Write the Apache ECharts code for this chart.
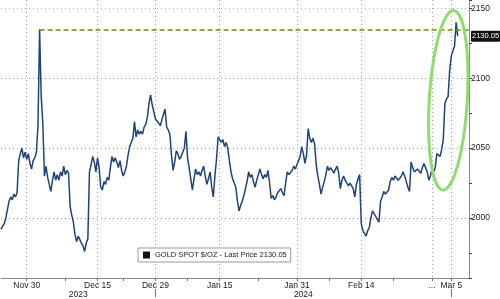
<!DOCTYPE html>
<html><head><meta charset="utf-8">
<script src="https://cdn.jsdelivr.net/npm/echarts@6/dist/echarts.min.js"></script>
<style>html,body{margin:0;padding:0;background:#fff}#c{width:500px;height:299px}</style>
</head><body><div id="c"></div>
<script>
const seriesName = 'GOLD SPOT $/OZ';
const firstDay = '2023-11-24';
const lastDay = '2024-03-07';
const holidays = ['2023-12-25', '2024-01-01'];
const slotHours = ['00:00', '06:00', '12:00', '18:00'];
const slotCount = 292;
const tickDates = ['2023-11-30', '2023-12-15', '2023-12-29', '2024-01-15', '2024-01-31', '2024-02-14', '2024-02-29', '2024-03-05'];
const tickLabels = ['Nov 30', 'Dec 15', 'Dec 29', 'Jan 15', 'Jan 31', 'Feb 14', '...', 'Mar 5'];
const minorTickDates = ['2023-12-08', '2023-12-21', '2024-01-08', '2024-01-23', '2024-02-07', '2024-02-21'];
const yearDates = ['2023-12-12', '2024-02-01'];
const yearLabels = ['2023', '2024'];
const yearSeparatorDates = ['2023-12-29', '2024-03-05'];
const yTicks = [2000, 2050, 2100, 2150];
const rallyStartDate = '2024-02-28';

// 6-hourly gold spot price
const goldPrice = [
  1992,1994,1996,2000,2006,2012,2015,2013,2017,2015,
  2018,2041,2046,2050,2043,2047,2042,2046,2039,2035,
  2041,2043,2047,2066,2135,2087,2068,2030,2037,2029,
  2024,2019,2027,2033,2027,2031,2027,2033,2030,2037,
  2031,2034,2032,2008,2002,1997,1988,1983,1987,1988,
  1982,1980,1976,1982,1985,2033,2038,2044,2040,2033,
  2043,2036,2022,2020,2026,2024,2029,2027,2036,2044,
  2040,2043,2040,2036,2041,2034,2030,2033,2037,2045,
  2051,2054,2057,2069,2058,2063,2060,2062,2060,2065,
  2067,2072,2082,2088,2081,2076,2071,2072,2068,2066,
  2070,2074,2078,2065,2063,2060,2045,2034,2040,2048,
  2046,2042,2044,2047,2050,2062,2043,2036,2028,2020,
  2028,2035,2031,2033,2030,2034,2037,2030,2024,2028,
  2033,2022,2015,2030,2042,2058,2057,2054,2056,2051,
  2054,2050,2041,2033,2028,2025,2022,2012,2005,2009,
  2012,2016,2021,2026,2033,2029,2031,2026,2022,2027,
  2031,2035,2031,2028,2031,2029,2034,2025,2014,2016,
  2013,2015,2018,2019,2021,2018,2016,2025,2033,2031,
  2030,2034,2037,2035,2038,2037,2044,2051,2046,2039,
  2045,2064,2057,2054,2057,2053,2038,2030,2024,2017,
  2022,2026,2031,2037,2034,2036,2035,2032,2035,2037,
  2032,2021,2027,2030,2027,2026,2023,2025,2023,2021,
  2015,2024,2028,2031,1996,1991,1989,1987,1991,1993,
  2000,2005,2003,2002,1999,1997,2012,2015,2019,2017,
  2016,2020,2026,2029,2027,2030,2029,2027,2026,2030,
  2033,2030,2026,2022,2019,2040,2036,2033,2034,2035,
  2034,2032,2036,2039,2036,2033,2027,2030,2035,2033,
  2036,2046,2045,2044,2049,2056,2082,2085,2087,2106,
  2116,2117,2123,2140,2130.05
];

const days = [];
for (let d = new Date(firstDay + 'T00:00:00Z'); d <= new Date(lastDay + 'T00:00:00Z'); d.setUTCDate(d.getUTCDate() + 1)) {
  const w = d.getUTCDay();
  const s = d.toISOString().slice(0, 10);
  if (w === 0 || w === 6 || holidays.includes(s)) continue;
  days.push(s);
}
const categories = [];
days.forEach(d => slotHours.forEach(h => categories.push(d + ' ' + h)));
categories.length = slotCount;
const slotOf = d => days.indexOf(d) * slotHours.length;

const labelMap = {};
tickDates.forEach((d, i) => { labelMap[slotOf(d)] = tickLabels[i]; });
const minorSet = new Set(minorTickDates.map(slotOf));
const yearMap = {};
yearDates.forEach((d, i) => { yearMap[slotOf(d)] = yearLabels[i]; });
const sepSet = new Set(yearSeparatorDates.map(slotOf));

const lastPrice = goldPrice[goldPrice.length - 1];
const earlyPart = goldPrice.slice(0, 100);
const spikeVal = Math.max(...earlyPart);
const spikeIdx = earlyPart.indexOf(spikeVal);

const FONT = 'Liberation Sans, Arial, sans-serif';
const chart = echarts.init(document.getElementById('c'), null, { renderer: 'canvas' });
chart.setOption({
  animation: false,
  textStyle: { fontFamily: FONT },
  grid: { left: 1, right: 31, top: 0, bottom: 19, containLabel: false },
  legend: {
    left: 138, top: 248, selectedMode: false,
    data: [{ name: seriesName, icon: 'rect', itemStyle: { color: '#111' } }],
    itemWidth: 7, itemHeight: 7, itemGap: 3, padding: [3, 4, 3, 5],
    borderColor: '#999', borderWidth: 1, backgroundColor: '#fff',
    textStyle: { fontSize: 7.5, color: '#222', fontFamily: FONT },
    formatter: n => n + ' - Last Price ' + lastPrice.toFixed(2)
  },
  xAxis: [{
    type: 'category', data: categories, boundaryGap: false,
    axisLine: { lineStyle: { color: '#888' } },
    axisTick: { interval: i => (labelMap[i] !== undefined) || minorSet.has(i), length: 3, lineStyle: { color: '#777' } },
    axisLabel: { interval: i => labelMap[i] !== undefined, formatter: (v, i) => labelMap[i] || '', fontSize: 8.5, color: '#222', margin: 3, fontFamily: FONT },
    splitLine: { show: true, interval: i => labelMap[i] !== undefined, lineStyle: { type: [1, 3], color: '#aaa' } }
  }, {
    type: 'category', data: categories, boundaryGap: false, position: 'bottom', offset: 11,
    axisLine: { show: false },
    axisTick: { interval: i => sepSet.has(i), length: 8, lineStyle: { color: '#777' } },
    axisLabel: { interval: i => yearMap[i] !== undefined, formatter: (v, i) => yearMap[i] || '', fontSize: 8.5, color: '#222', margin: 1, fontFamily: FONT },
    splitLine: { show: false }
  }],
  yAxis: {
    type: 'value', position: 'right', min: 1957, max: 2156, splitNumber: 4,
    axisLine: { show: true, lineStyle: { color: '#888' } },
    axisTick: { show: true, length: 3, lineStyle: { color: '#444' } },
    minorTick: { show: true, splitNumber: 2, length: 3, lineStyle: { color: '#444' } },
    axisLabel: { showMinLabel: false, showMaxLabel: false, fontSize: 8.5, color: '#222', margin: 2, fontFamily: FONT,
      formatter: v => yTicks.includes(v) ? String(v) : '' },
    splitLine: { show: true, showMinLine: false, showMaxLine: false, lineStyle: { type: [1, 3], color: '#aaa' } }
  },
  series: [{
    name: seriesName, type: 'line', data: goldPrice, symbol: 'none', showSymbol: false,
    lineStyle: { color: '#1f4478', width: 1.5 }, itemStyle: { color: '#111' },
    markLine: {
      silent: true, symbol: 'none', animation: false,
      data: [
        [{ coord: [spikeIdx, spikeVal], lineStyle: { color: '#6f8c1c', width: 1.5, type: [5, 3] }, label: { show: false } },
         { coord: [slotCount - 1, spikeVal] }],
        { yAxis: lastPrice, lineStyle: { color: 'rgba(0,0,0,0)', width: 0 },
          label: { show: true, position: 'end', distance: 2, formatter: () => lastPrice.toFixed(2),
            backgroundColor: '#111', color: '#fff', padding: [2, 1, 1, 1], fontSize: 7.5, fontFamily: FONT, borderRadius: 1 } }
      ]
    }
  }]
});

// green annotation ellipse around the final rally, positioned from the data
const rs = slotOf(rallyStartDate) + 2;
const re = goldPrice.length - 1;
const seg = goldPrice.slice(rs, re + 1);
const pA = chart.convertToPixel({ xAxisIndex: 0, yAxisIndex: 0 }, [rs, Math.min(...seg)]);
const pB = chart.convertToPixel({ xAxisIndex: 0, yAxisIndex: 0 }, [re, Math.max(...seg)]);
const cx = (pA[0] + pB[0]) / 2 + 5;
const cy = (pA[1] + pB[1]) / 2 - 1;
const ry = (pA[1] - pB[1]) / 2 + 11;
const rx = 19;
const rot = 0.06;
const pts = [];
for (let k = 0; k < 72; k++) {
  const t = k / 72 * Math.PI * 2;
  const ex = rx * Math.cos(t), ey = ry * Math.sin(t);
  pts.push([cx + ex * Math.cos(rot) - ey * Math.sin(rot), cy + ex * Math.sin(rot) + ey * Math.cos(rot)]);
}
chart.setOption({
  graphic: [{ type: 'polygon', z: 100, silent: true, shape: { points: pts },
    style: { fill: 'none', stroke: '#8fdc6c', lineWidth: 3 } }]
});
</script>
</body></html>
